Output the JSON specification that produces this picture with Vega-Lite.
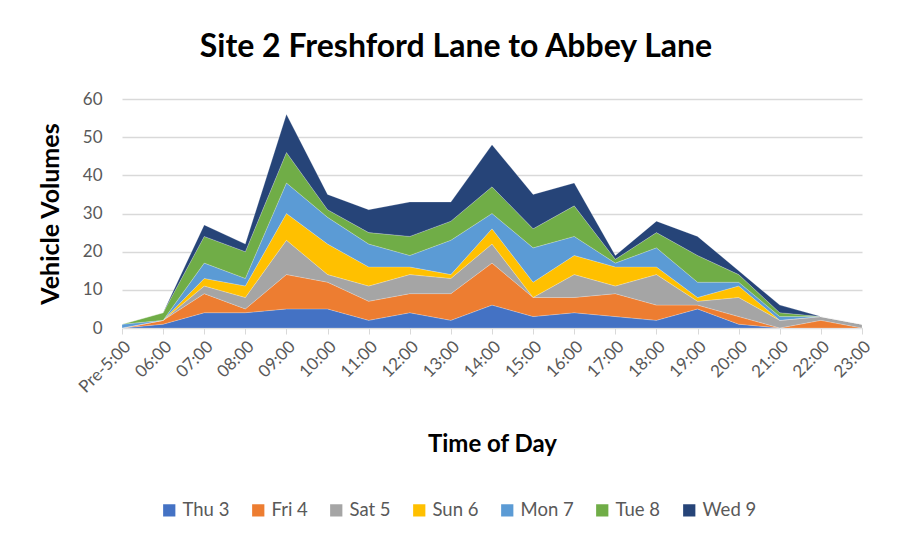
{
  "$schema": "https://vega.github.io/schema/vega-lite/v6.json",
  "width": 740,
  "height": 229,
  "autosize": {"type": "none"},
  "padding": {"left": 122, "top": 99, "right": 36, "bottom": 218},
  "background": "white",
  "config": {
    "font": "Lato",
    "view": {"stroke": null},
    "axis": {"labelFont": "Lato", "titleFont": "Lato"}
  },
  "title": {
    "text": "Site 2 Freshford Lane to Abbey Lane",
    "fontSize": 32,
    "fontWeight": "bold",
    "color": "#000000",
    "anchor": "middle",
    "dx": -36,
    "offset": 26
  },
  "data": {
    "values": [
      {"time":"Pre-5:00","day":"Thu 3","d":3,"v":0},{"time":"Pre-5:00","day":"Fri 4","d":4,"v":0},{"time":"Pre-5:00","day":"Sat 5","d":5,"v":0},{"time":"Pre-5:00","day":"Sun 6","d":6,"v":0},{"time":"Pre-5:00","day":"Mon 7","d":7,"v":1},{"time":"Pre-5:00","day":"Tue 8","d":8,"v":0},{"time":"Pre-5:00","day":"Wed 9","d":9,"v":0},
      {"time":"06:00","day":"Thu 3","d":3,"v":1},{"time":"06:00","day":"Fri 4","d":4,"v":1},{"time":"06:00","day":"Sat 5","d":5,"v":0},{"time":"06:00","day":"Sun 6","d":6,"v":0},{"time":"06:00","day":"Mon 7","d":7,"v":0},{"time":"06:00","day":"Tue 8","d":8,"v":2},{"time":"06:00","day":"Wed 9","d":9,"v":0},
      {"time":"07:00","day":"Thu 3","d":3,"v":4},{"time":"07:00","day":"Fri 4","d":4,"v":5},{"time":"07:00","day":"Sat 5","d":5,"v":2},{"time":"07:00","day":"Sun 6","d":6,"v":2},{"time":"07:00","day":"Mon 7","d":7,"v":4},{"time":"07:00","day":"Tue 8","d":8,"v":7},{"time":"07:00","day":"Wed 9","d":9,"v":3},
      {"time":"08:00","day":"Thu 3","d":3,"v":4},{"time":"08:00","day":"Fri 4","d":4,"v":1},{"time":"08:00","day":"Sat 5","d":5,"v":3},{"time":"08:00","day":"Sun 6","d":6,"v":3},{"time":"08:00","day":"Mon 7","d":7,"v":2},{"time":"08:00","day":"Tue 8","d":8,"v":7},{"time":"08:00","day":"Wed 9","d":9,"v":2},
      {"time":"09:00","day":"Thu 3","d":3,"v":5},{"time":"09:00","day":"Fri 4","d":4,"v":9},{"time":"09:00","day":"Sat 5","d":5,"v":9},{"time":"09:00","day":"Sun 6","d":6,"v":7},{"time":"09:00","day":"Mon 7","d":7,"v":8},{"time":"09:00","day":"Tue 8","d":8,"v":8},{"time":"09:00","day":"Wed 9","d":9,"v":10},
      {"time":"10:00","day":"Thu 3","d":3,"v":5},{"time":"10:00","day":"Fri 4","d":4,"v":7},{"time":"10:00","day":"Sat 5","d":5,"v":2},{"time":"10:00","day":"Sun 6","d":6,"v":8},{"time":"10:00","day":"Mon 7","d":7,"v":7},{"time":"10:00","day":"Tue 8","d":8,"v":2},{"time":"10:00","day":"Wed 9","d":9,"v":4},
      {"time":"11:00","day":"Thu 3","d":3,"v":2},{"time":"11:00","day":"Fri 4","d":4,"v":5},{"time":"11:00","day":"Sat 5","d":5,"v":4},{"time":"11:00","day":"Sun 6","d":6,"v":5},{"time":"11:00","day":"Mon 7","d":7,"v":6},{"time":"11:00","day":"Tue 8","d":8,"v":3},{"time":"11:00","day":"Wed 9","d":9,"v":6},
      {"time":"12:00","day":"Thu 3","d":3,"v":4},{"time":"12:00","day":"Fri 4","d":4,"v":5},{"time":"12:00","day":"Sat 5","d":5,"v":5},{"time":"12:00","day":"Sun 6","d":6,"v":2},{"time":"12:00","day":"Mon 7","d":7,"v":3},{"time":"12:00","day":"Tue 8","d":8,"v":5},{"time":"12:00","day":"Wed 9","d":9,"v":9},
      {"time":"13:00","day":"Thu 3","d":3,"v":2},{"time":"13:00","day":"Fri 4","d":4,"v":7},{"time":"13:00","day":"Sat 5","d":5,"v":4},{"time":"13:00","day":"Sun 6","d":6,"v":1},{"time":"13:00","day":"Mon 7","d":7,"v":9},{"time":"13:00","day":"Tue 8","d":8,"v":5},{"time":"13:00","day":"Wed 9","d":9,"v":5},
      {"time":"14:00","day":"Thu 3","d":3,"v":6},{"time":"14:00","day":"Fri 4","d":4,"v":11},{"time":"14:00","day":"Sat 5","d":5,"v":5},{"time":"14:00","day":"Sun 6","d":6,"v":4},{"time":"14:00","day":"Mon 7","d":7,"v":4},{"time":"14:00","day":"Tue 8","d":8,"v":7},{"time":"14:00","day":"Wed 9","d":9,"v":11},
      {"time":"15:00","day":"Thu 3","d":3,"v":3},{"time":"15:00","day":"Fri 4","d":4,"v":5},{"time":"15:00","day":"Sat 5","d":5,"v":0},{"time":"15:00","day":"Sun 6","d":6,"v":4},{"time":"15:00","day":"Mon 7","d":7,"v":9},{"time":"15:00","day":"Tue 8","d":8,"v":5},{"time":"15:00","day":"Wed 9","d":9,"v":9},
      {"time":"16:00","day":"Thu 3","d":3,"v":4},{"time":"16:00","day":"Fri 4","d":4,"v":4},{"time":"16:00","day":"Sat 5","d":5,"v":6},{"time":"16:00","day":"Sun 6","d":6,"v":5},{"time":"16:00","day":"Mon 7","d":7,"v":5},{"time":"16:00","day":"Tue 8","d":8,"v":8},{"time":"16:00","day":"Wed 9","d":9,"v":6},
      {"time":"17:00","day":"Thu 3","d":3,"v":3},{"time":"17:00","day":"Fri 4","d":4,"v":6},{"time":"17:00","day":"Sat 5","d":5,"v":2},{"time":"17:00","day":"Sun 6","d":6,"v":5},{"time":"17:00","day":"Mon 7","d":7,"v":1},{"time":"17:00","day":"Tue 8","d":8,"v":1},{"time":"17:00","day":"Wed 9","d":9,"v":1},
      {"time":"18:00","day":"Thu 3","d":3,"v":2},{"time":"18:00","day":"Fri 4","d":4,"v":4},{"time":"18:00","day":"Sat 5","d":5,"v":8},{"time":"18:00","day":"Sun 6","d":6,"v":2},{"time":"18:00","day":"Mon 7","d":7,"v":5},{"time":"18:00","day":"Tue 8","d":8,"v":4},{"time":"18:00","day":"Wed 9","d":9,"v":3},
      {"time":"19:00","day":"Thu 3","d":3,"v":5},{"time":"19:00","day":"Fri 4","d":4,"v":1},{"time":"19:00","day":"Sat 5","d":5,"v":1},{"time":"19:00","day":"Sun 6","d":6,"v":1},{"time":"19:00","day":"Mon 7","d":7,"v":4},{"time":"19:00","day":"Tue 8","d":8,"v":7},{"time":"19:00","day":"Wed 9","d":9,"v":5},
      {"time":"20:00","day":"Thu 3","d":3,"v":1},{"time":"20:00","day":"Fri 4","d":4,"v":2},{"time":"20:00","day":"Sat 5","d":5,"v":5},{"time":"20:00","day":"Sun 6","d":6,"v":3},{"time":"20:00","day":"Mon 7","d":7,"v":1},{"time":"20:00","day":"Tue 8","d":8,"v":2},{"time":"20:00","day":"Wed 9","d":9,"v":1},
      {"time":"21:00","day":"Thu 3","d":3,"v":0},{"time":"21:00","day":"Fri 4","d":4,"v":0},{"time":"21:00","day":"Sat 5","d":5,"v":2},{"time":"21:00","day":"Sun 6","d":6,"v":0},{"time":"21:00","day":"Mon 7","d":7,"v":1},{"time":"21:00","day":"Tue 8","d":8,"v":1},{"time":"21:00","day":"Wed 9","d":9,"v":2},
      {"time":"22:00","day":"Thu 3","d":3,"v":0},{"time":"22:00","day":"Fri 4","d":4,"v":2},{"time":"22:00","day":"Sat 5","d":5,"v":1},{"time":"22:00","day":"Sun 6","d":6,"v":0},{"time":"22:00","day":"Mon 7","d":7,"v":0},{"time":"22:00","day":"Tue 8","d":8,"v":0},{"time":"22:00","day":"Wed 9","d":9,"v":0},
      {"time":"23:00","day":"Thu 3","d":3,"v":0},{"time":"23:00","day":"Fri 4","d":4,"v":0},{"time":"23:00","day":"Sat 5","d":5,"v":1},{"time":"23:00","day":"Sun 6","d":6,"v":0},{"time":"23:00","day":"Mon 7","d":7,"v":0},{"time":"23:00","day":"Tue 8","d":8,"v":0},{"time":"23:00","day":"Wed 9","d":9,"v":0}
    ]
  },
  "mark": {"type": "area", "opacity": 1, "stroke": "#ffffff", "strokeWidth": 0.4, "strokeOpacity": 0.5},
  "encoding": {
    "x": {
      "field": "time",
      "type": "ordinal",
      "sort": null,
      "scale": {"type": "point", "padding": 0},
      "axis": {
        "title": "Time of Day",
        "titleFontSize": 24,
        "titleFontWeight": "bold",
        "titleColor": "#000000",
        "titlePadding": 37,
        "labelAngle": -45,
        "labelFontSize": 17,
        "labelColor": "#595959",
        "labelPadding": 4,
        "domainColor": "#d9d9d9",
        "tickColor": "#d9d9d9",
        "tickSize": 6,
        "grid": false
      }
    },
    "y": {
      "field": "v",
      "type": "quantitative",
      "stack": "zero",
      "scale": {"domain": [0, 60], "nice": false},
      "axis": {
        "title": "Vehicle Volumes",
        "titleFontSize": 25,
        "titleFontWeight": "bold",
        "titleColor": "#000000",
        "titlePadding": 19,
        "values": [0, 10, 20, 30, 40, 50, 60],
        "labelFontSize": 17,
        "labelColor": "#595959",
        "labelPadding": 20,
        "ticks": false,
        "domain": false,
        "gridColor": "#d9d9d9",
        "gridWidth": 1.3
      }
    },
    "color": {
      "field": "day",
      "type": "nominal",
      "scale": {
        "domain": ["Thu 3", "Fri 4", "Sat 5", "Sun 6", "Mon 7", "Tue 8", "Wed 9"],
        "range": ["#4472C4", "#ED7D31", "#A5A5A5", "#FFC000", "#5B9BD5", "#70AD47", "#264478"]
      },
      "legend": {
        "orient": "none",
        "legendX": 38,
        "legendY": 402,
        "direction": "horizontal",
        "title": null,
        "symbolType": "square",
        "symbolSize": 150,
        "symbolStrokeWidth": 0,
        "labelFontSize": 18.5,
        "labelColor": "#595959",
        "columnPadding": 19
      }
    },
    "order": {"field": "d", "type": "quantitative", "sort": "ascending"}
  }
}
